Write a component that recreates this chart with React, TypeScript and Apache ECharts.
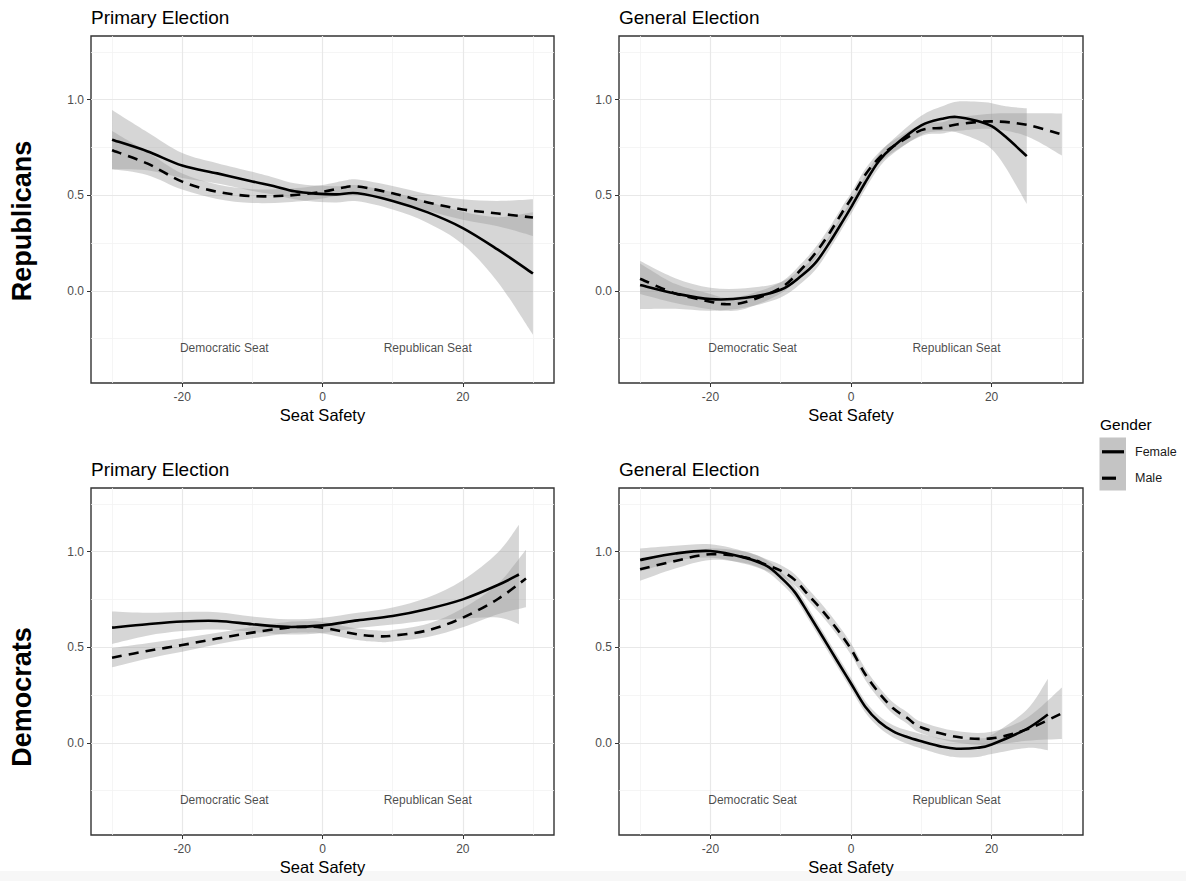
import React, { useEffect, useRef } from "react";
import * as echarts from "echarts";

const FONT = "'Liberation Sans', Arial, Helvetica, sans-serif";

// axes
const xTicks = [-20, 0, 20];
const xMinor = [-30, -10, 10, 30];
const yTicks = [0, 0.5, 1.0];
const yMinor = [-0.25, 0.25, 0.75, 1.25];

const panelTitles = ["Primary Election", "General Election", "Primary Election", "General Election"];
const rowLabels = ["Republicans", "Democrats"];
const xAxisTitle = "Seat Safety";
const seatLabels = ["Democratic Seat", "Republican Seat"];
const seatLabelX = [-14, 15];
const seatLabelY = -0.3;
const legendTitle = "Gender";
const genders = ["Female", "Male"];

// Republicans – Primary
const repPrimFemaleX = [-30, -25, -20, -15, -10, -7, -4, -1, 2, 5, 10, 15, 20, 25, 30];
const repPrimFemaleY = [0.79, 0.73, 0.655, 0.614, 0.572, 0.548, 0.52, 0.508, 0.504, 0.51, 0.47, 0.41, 0.328, 0.215, 0.09];
const repPrimFemaleSe = [0.155, 0.1, 0.065, 0.053, 0.05, 0.045, 0.042, 0.042, 0.042, 0.042, 0.045, 0.055, 0.085, 0.17, 0.32];
const repPrimMaleX = [-30, -25, -20, -15, -10, -5, 0, 3, 5, 10, 15, 20, 25, 30];
const repPrimMaleY = [0.735, 0.666, 0.571, 0.518, 0.495, 0.498, 0.518, 0.54, 0.545, 0.51, 0.462, 0.425, 0.404, 0.383];
const repPrimMaleSe = [0.1, 0.06, 0.042, 0.038, 0.036, 0.035, 0.035, 0.035, 0.037, 0.038, 0.044, 0.053, 0.066, 0.096];

// Republicans – General
const repGenFemaleX = [-30, -25, -20, -15, -10, -7, -5, -3, -1, 0, 2, 4, 6, 10, 13, 15, 18, 20, 22, 25];
const repGenFemaleY = [0.03, -0.014, -0.044, -0.037, 0.005, 0.08, 0.148, 0.255, 0.375, 0.436, 0.565, 0.68, 0.755, 0.865, 0.9, 0.909, 0.888, 0.861, 0.805, 0.704];
const repGenFemaleSe = [0.125, 0.08, 0.06, 0.05, 0.04, 0.038, 0.036, 0.035, 0.035, 0.035, 0.035, 0.035, 0.037, 0.05, 0.065, 0.08, 0.1, 0.12, 0.16, 0.25];
const repGenMaleX = [-30, -25, -20, -18, -15, -10, -7, -5, -3, -1, 0, 2, 4, 6, 10, 13, 15, 20, 25, 30];
const repGenMaleY = [0.063, -0.014, -0.057, -0.07, -0.059, 0.015, 0.115, 0.2, 0.305, 0.425, 0.48, 0.605, 0.695, 0.755, 0.84, 0.852, 0.87, 0.886, 0.868, 0.817];
const repGenMaleSe = [0.08, 0.05, 0.04, 0.035, 0.035, 0.03, 0.03, 0.03, 0.03, 0.03, 0.03, 0.03, 0.03, 0.03, 0.03, 0.03, 0.035, 0.04, 0.06, 0.11];

// Democrats – Primary
const demPrimFemaleX = [-30, -25, -20, -15, -10, -5, 0, 5, 10, 15, 20, 25, 28];
const demPrimFemaleY = [0.602, 0.62, 0.634, 0.637, 0.62, 0.606, 0.614, 0.64, 0.663, 0.7, 0.75, 0.825, 0.88];
const demPrimFemaleSe = [0.085, 0.06, 0.05, 0.045, 0.04, 0.04, 0.04, 0.04, 0.045, 0.06, 0.1, 0.17, 0.26];
const demPrimMaleX = [-30, -25, -20, -15, -10, -5, -2, 0, 5, 8, 10, 15, 20, 25, 29];
const demPrimMaleY = [0.445, 0.48, 0.511, 0.545, 0.576, 0.602, 0.606, 0.602, 0.567, 0.557, 0.56, 0.588, 0.654, 0.752, 0.859];
const demPrimMaleSe = [0.05, 0.04, 0.035, 0.03, 0.03, 0.03, 0.03, 0.03, 0.03, 0.03, 0.03, 0.035, 0.05, 0.08, 0.15];

// Democrats – General
const demGenFemaleX = [-30, -25, -20, -15, -12, -10, -8, -6, -4, -2, 0, 2, 4, 6, 8, 10, 13, 15, 18, 20, 25, 28];
const demGenFemaleY = [0.956, 0.99, 1.003, 0.967, 0.925, 0.865, 0.788, 0.672, 0.552, 0.43, 0.31, 0.19, 0.11, 0.06, 0.03, 0.008, -0.021, -0.031, -0.026, -0.009, 0.073, 0.148];
const demGenFemaleSe = [0.06, 0.04, 0.035, 0.032, 0.03, 0.03, 0.03, 0.03, 0.03, 0.03, 0.03, 0.03, 0.03, 0.032, 0.035, 0.038, 0.042, 0.045, 0.048, 0.05, 0.1, 0.187];
const demGenMaleX = [-30, -25, -20, -15, -12, -10, -8, -6, -4, -2, 0, 2, 4, 6, 8, 10, 15, 20, 25, 30];
const demGenMaleY = [0.907, 0.951, 0.986, 0.969, 0.93, 0.9, 0.852, 0.77, 0.688, 0.595, 0.49, 0.36, 0.26, 0.18, 0.13, 0.08, 0.031, 0.023, 0.07, 0.154];
const demGenMaleSe = [0.06, 0.04, 0.03, 0.03, 0.03, 0.03, 0.03, 0.03, 0.03, 0.03, 0.03, 0.03, 0.03, 0.03, 0.03, 0.03, 0.03, 0.035, 0.06, 0.135];

const panels = [
  { f: [repPrimFemaleX, repPrimFemaleY, repPrimFemaleSe], m: [repPrimMaleX, repPrimMaleY, repPrimMaleSe] },
  { f: [repGenFemaleX, repGenFemaleY, repGenFemaleSe], m: [repGenMaleX, repGenMaleY, repGenMaleSe] },
  { f: [demPrimFemaleX, demPrimFemaleY, demPrimFemaleSe], m: [demPrimMaleX, demPrimMaleY, demPrimMaleSe] },
  { f: [demGenFemaleX, demGenFemaleY, demGenFemaleSe], m: [demGenMaleX, demGenMaleY, demGenMaleSe] },
];

// layout (pixels)
const gridBoxes = [
  { left: 91, top: 36, width: 463, height: 347 },
  { left: 619, top: 36, width: 464, height: 347 },
  { left: 91, top: 488, width: 463, height: 347 },
  { left: 619, top: 488, width: 464, height: 347 },
];

const BAND = "rgba(153,153,153,0.4)";

// Catmull-Rom spline through screen points -> SVG bezier segments
function splineSegs(pts: number[][]): string {
  let d = "";
  for (let i = 0; i < pts.length - 1; i++) {
    const p0 = pts[i - 1] || pts[i];
    const p1 = pts[i];
    const p2 = pts[i + 1];
    const p3 = pts[i + 2] || pts[i + 1];
    const c1x = p1[0] + (p2[0] - p0[0]) / 6;
    const c1y = p1[1] + (p2[1] - p0[1]) / 6;
    const c2x = p2[0] - (p3[0] - p1[0]) / 6;
    const c2y = p2[1] - (p3[1] - p1[1]) / 6;
    d += ` C${c1x},${c1y} ${c2x},${c2y} ${p2[0]},${p2[1]}`;
  }
  return d;
}

function bandRenderer(xs: number[], ys: number[], se: number[]) {
  return (params: any, api: any) => {
    const up = xs.map((x, i) => api.coord([x, ys[i] + se[i]]));
    const lo = xs.map((x, i) => api.coord([x, ys[i] - se[i]])).reverse();
    const d = `M${up[0][0]},${up[0][1]}` + splineSegs(up) + ` L${lo[0][0]},${lo[0][1]}` + splineSegs(lo) + " Z";
    return { type: "path", shape: { pathData: d }, style: { fill: BAND, stroke: null } };
  };
}

function lineRenderer(xs: number[], ys: number[], dashed: boolean) {
  return (params: any, api: any) => {
    const pts = xs.map((x, i) => api.coord([x, ys[i]]));
    const d = `M${pts[0][0]},${pts[0][1]}` + splineSegs(pts);
    return {
      type: "path",
      shape: { pathData: d },
      style: {
        fill: null,
        stroke: "#000",
        lineWidth: 2.6,
        lineDash: dashed ? [10, 7] : null,
      },
    };
  };
}

function buildOption() {
  const grid: any[] = [];
  const xAxis: any[] = [];
  const yAxis: any[] = [];
  const series: any[] = [];

  gridBoxes.forEach((b, gi) => {
    grid.push({ ...b, show: true, borderColor: "#333333", borderWidth: 1.4, backgroundColor: "#fff" });
    xAxis.push({
      type: "value",
      gridIndex: gi,
      min: -33,
      max: 33,
      name: xAxisTitle,
      nameLocation: "middle",
      nameGap: 23,
      nameTextStyle: { fontSize: 16.5, color: "#000", fontFamily: FONT },
      axisLine: { show: false, onZero: false },
      axisTick: { show: true, customValues: xTicks, length: 4, lineStyle: { color: "#333", width: 1 } },
      axisLabel: { customValues: xTicks, margin: 8, fontSize: 12, color: "#4d4d4d", fontFamily: FONT },
      splitLine: { show: false },
    });
    yAxis.push({
      type: "value",
      gridIndex: gi,
      min: -0.4825,
      max: 1.3325,
      axisLine: { show: false, onZero: false },
      axisTick: { show: true, customValues: yTicks, length: 4, lineStyle: { color: "#333", width: 1 } },
      axisLabel: {
        customValues: yTicks,
        margin: 7,
        fontSize: 12,
        color: "#4d4d4d",
        fontFamily: FONT,
        formatter: (v: number) => v.toFixed(1),
      },
      splitLine: { show: false },
    });

    const p = panels[gi];
    const gridMarks = [
      ...xMinor.map((v) => ({ xAxis: v, lineStyle: { color: "#f2f2f2", width: 0.8, type: "solid" } })),
      ...yMinor.map((v) => ({ yAxis: v, lineStyle: { color: "#f2f2f2", width: 0.8, type: "solid" } })),
      ...xTicks.map((v) => ({ xAxis: v, lineStyle: { color: "#e8e8e8", width: 1.2, type: "solid" } })),
      ...yTicks.map((v) => ({ yAxis: v, lineStyle: { color: "#e8e8e8", width: 1.2, type: "solid" } })),
    ];

    // gridlines holder
    series.push({
      type: "line",
      xAxisIndex: gi,
      yAxisIndex: gi,
      symbol: "none",
      silent: true,
      z: 0,
      lineStyle: { opacity: 0 },
      data: [[0, 0]],
      markLine: { silent: true, symbol: "none", label: { show: false }, z: 0, animation: false, data: gridMarks },
    });

    (["f", "m"] as const).forEach((key) => {
      const [xs, ys, se] = p[key] as number[][];
      series.push({
        type: "custom",
        xAxisIndex: gi,
        yAxisIndex: gi,
        silent: true,
        z: 2,
        clip: true,
        renderItem: bandRenderer(xs, ys, se),
        data: [[xs[0], ys[0]]],
      });
    });
    (["f", "m"] as const).forEach((key, k) => {
      const [xs, ys] = p[key] as number[][];
      series.push({
        type: "custom",
        name: genders[k],
        xAxisIndex: gi,
        yAxisIndex: gi,
        silent: true,
        z: 3,
        renderItem: lineRenderer(xs, ys, k === 1),
        data: [[xs[0], ys[0]]],
      });
    });
    series.push({
      type: "scatter",
      xAxisIndex: gi,
      yAxisIndex: gi,
      symbolSize: 0,
      silent: true,
      z: 4,
      label: { show: true, position: "inside", formatter: "{b}", fontSize: 12, color: "#1a1a1a", fontFamily: FONT },
      data: seatLabelX.map((x, i) => ({ name: seatLabels[i], value: [x, seatLabelY] })),
    });
  });

  const graphic: any[] = [
    { type: "rect", z: -10, shape: { x: 0, y: 871, width: 1186, height: 10 }, style: { fill: "#f7f7f7" } },
  ];
  gridBoxes.forEach((b, gi) => {
    graphic.push({
      type: "text",
      x: b.left,
      y: b.top - 19,
      style: { text: panelTitles[gi], fontSize: 19, fontFamily: FONT, fill: "#000", align: "left", verticalAlign: "middle" },
    });
  });
  [221, 697].forEach((cy, r) => {
    graphic.push({
      type: "text",
      x: 22,
      y: cy,
      rotation: Math.PI / 2,
      style: {
        text: rowLabels[r],
        fontSize: 27,
        fontWeight: "bold",
        fontFamily: FONT,
        fill: "#000",
        align: "center",
        verticalAlign: "middle",
      },
    });
  });
  // legend
  graphic.push(
    { type: "text", x: 1100, y: 424, style: { text: legendTitle, fontSize: 15.5, fontFamily: FONT, fill: "#000", verticalAlign: "middle" } },
    { type: "rect", shape: { x: 1099.5, y: 437.5, width: 26.5, height: 53 }, style: { fill: "#c4c4c4" } },
    { type: "line", shape: { x1: 1102, y1: 451.8, x2: 1124, y2: 451.8 }, style: { stroke: "#000", lineWidth: 3.2 } },
    { type: "line", shape: { x1: 1102, y1: 478.2, x2: 1116, y2: 478.2 }, style: { stroke: "#000", lineWidth: 3.2 } },
    { type: "text", x: 1135, y: 452, style: { text: genders[0], fontSize: 12.5, fontFamily: FONT, fill: "#1a1a1a", verticalAlign: "middle" } },
    { type: "text", x: 1135, y: 478, style: { text: genders[1], fontSize: 12.5, fontFamily: FONT, fill: "#1a1a1a", verticalAlign: "middle" } }
  );

  return {
    animation: false,
    backgroundColor: "#fff",
    textStyle: { fontFamily: FONT },
    grid,
    xAxis,
    yAxis,
    series,
    graphic,
  };
}

export default function App() {
  const ref = useRef<HTMLDivElement>(null);
  useEffect(() => {
    if (!ref.current) return;
    const chart = echarts.init(ref.current, undefined, { renderer: "svg" });
    chart.setOption(buildOption() as any);
    return () => chart.dispose();
  }, []);
  return <div ref={ref} style={{ position: "absolute", left: 0, top: 0, width: 1186, height: 881 }} />;
}
